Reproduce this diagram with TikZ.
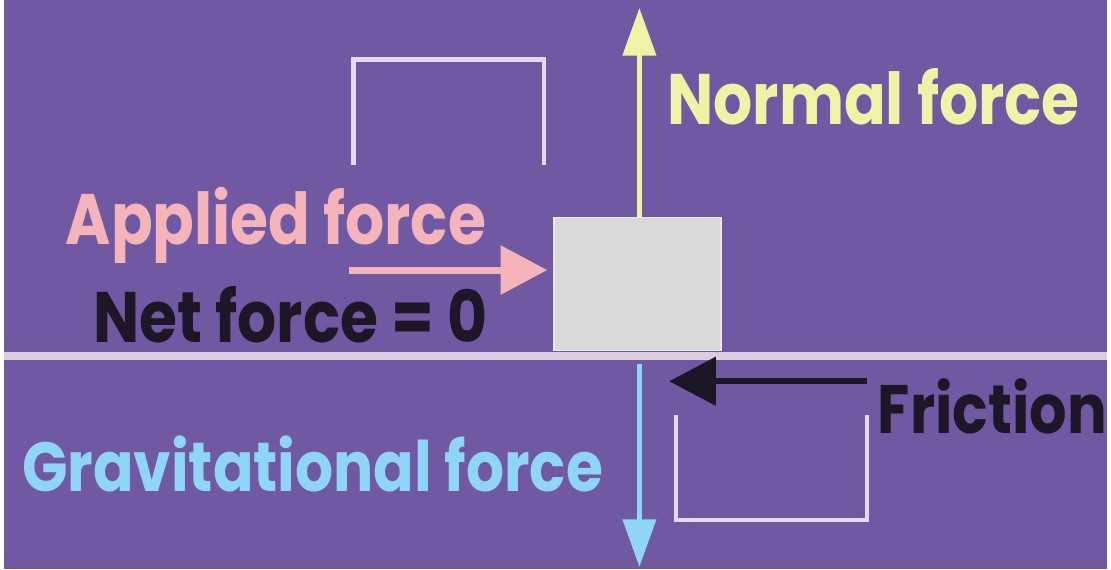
\documentclass[tikz,border=0pt]{standalone}
\usepackage{fontspec}
\setmainfont{Poppins}[FakeStretch=0.86]
\usetikzlibrary{arrows.meta,positioning}
\definecolor{bgpurple}{HTML}{7058A2}
\definecolor{normalc}{HTML}{EFF3A6}
\definecolor{appliedc}{HTML}{F5B3BA}
\definecolor{gravc}{HTML}{8FD6F6}
\definecolor{darkc}{HTML}{1C1626}
\definecolor{bracketc}{HTML}{E8D8F2}
\definecolor{groundc}{HTML}{DCCCE0}
\definecolor{blockc}{HTML}{D9D9D9}

\begin{document}
\begin{tikzpicture}[x=1pt, y=-1pt,
  forcetext/.style={anchor=base west, inner sep=0pt,
    font=\fontsize{72}{72}\selectfont\bfseries},
  force/.style={line width=5pt, -{Triangle[length=48pt, width=33pt]}},
  bigforce/.style={line width=6pt, -{Triangle[length=47pt, width=48pt]}},
  bracket/.style={draw=bracketc, line width=4.5pt},
  block/.style={draw=blockc!60!white, fill=blockc, line width=1.5pt,
    minimum width=168pt, minimum height=134pt, inner sep=0pt}
]
\fill[bgpurple] (0,0) rectangle (1111,573);

\draw[groundc, line width=8pt] (0,358.5) -- (1111,358.5);
\draw[bracket] (352,166) |- (544,60) -- (544,166);
\draw[bracket] (677,418) |- (869,524) -- (869,418);

\node[block] (block) at (638,286) {};

\coordinate (ntip) at (640,8);
\coordinate (gtail) at (640,367);
\coordinate (gtip) at (640,571);
\coordinate (atail) at (348,272);
\coordinate (ftail) at (869,384);
\coordinate (ftip) at (670,384);

\draw[force, normalc] (block.north -| ntip) -- (ntip);
\draw[force, gravc] (gtail) -- (gtip);
\draw[bigforce, appliedc, line width=7pt, shorten >=6pt] (atail) -- (atail -| block.west);
\draw[bigforce, darkc] (ftail) -- (ftip);

\node[forcetext, text=normalc] (normal) at (668,125) {Normal force};
\node[forcetext, text=appliedc] (applied) at (62,246) {Applied force};
\node[forcetext, text=darkc] (net) at (90,345) {Net force = 0};
\node[forcetext, text=darkc, font=\fontsize{69}{69}\selectfont\bfseries] (friction) at (880,437) {Friction};
\node[forcetext, text=gravc, font=\fontsize{70}{70}\selectfont\bfseries] (gravity) at (18,495) {Gravitational force};
\end{tikzpicture}
\end{document}
